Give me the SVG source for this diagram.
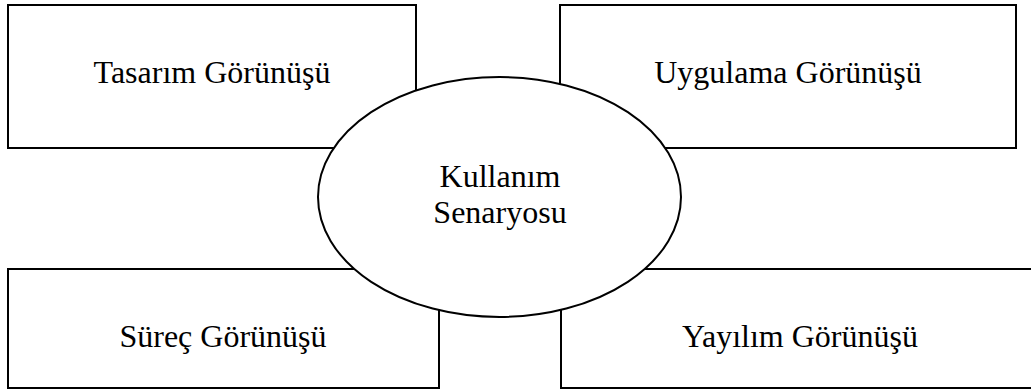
<svg xmlns="http://www.w3.org/2000/svg" width="1031" height="392" viewBox="0 0 1031 392">
<style>
.box{fill:#fff;stroke:#000;stroke-width:2}
.lbl{font-family:"Liberation Serif","Times New Roman",serif;font-size:32px;fill:#000;text-anchor:middle}
</style>
<rect width="1031" height="392" fill="#fff"/>
<g id="tasarim">
<rect class="box" x="8" y="5" width="408" height="143"/>
<text class="lbl" x="212" y="83">Tasarım Görünüşü</text>
</g>
<g id="uygulama">
<rect class="box" x="560" y="5" width="456" height="143"/>
<text class="lbl" x="788" y="83">Uygulama Görünüşü</text>
</g>
<g id="surec">
<rect class="box" x="8" y="269" width="431" height="119"/>
<text class="lbl" x="223" y="347">Süreç Görünüşü</text>
</g>
<g id="yayilim">
<rect class="box" x="561" y="269" width="480" height="119"/>
<text class="lbl" x="800" y="347">Yayılım Görünüşü</text>
</g>
<g id="connectors"></g>
<g id="kullanim">
<ellipse class="box" cx="499.5" cy="197" rx="181.5" ry="120"/>
<text class="lbl" x="500" y="187">Kullanım</text>
<text class="lbl" x="500" y="223">Senaryosu</text>
</g>
</svg>
